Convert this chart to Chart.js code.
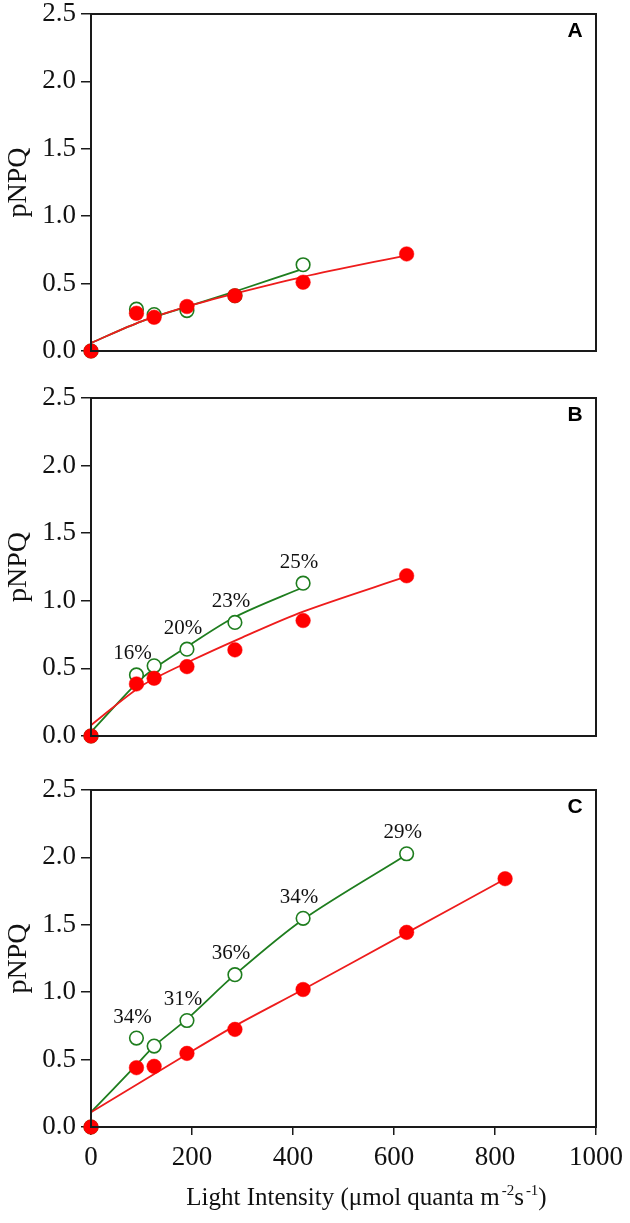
<!DOCTYPE html>
<html>
<head>
<meta charset="utf-8">
<script src="https://cdn.jsdelivr.net/npm/chart.js@4"></script>
<style>
  html, body { margin: 0; padding: 0; background: #fff; }
  #wrap { position: relative; width: 630px; height: 1223px; overflow: hidden; }
  canvas { position: absolute; left: 0; }
</style>
</head>
<body>
<div id="wrap">
  <canvas id="cA" width="630" height="384" style="top:0px"></canvas>
  <canvas id="cB" width="630" height="384" style="top:384px"></canvas>
  <canvas id="cC" width="630" height="455" style="top:768px"></canvas>
</div>
<script>
// ---------- data ----------
const yTickLabels = ['0.0', '0.5', '1.0', '1.5', '2.0', '2.5'];
const xTickLabels = ['0', '200', '400', '600', '800', '1000'];
const xTitleParts = [
  { t: 'Light Intensity (\u03bcmol quanta m', sup: false },
  { t: '-2', sup: true },
  { t: 's', sup: false },
  { t: '-1', sup: true },
  { t: ')', sup: false }
];

// Panel A
const lightA_red = [0, 90, 125, 190, 285, 420, 625];
const pnpqA_red = [0, 0.28, 0.25, 0.33, 0.41, 0.51, 0.72];
const lightA_green = [0, 90, 125, 190, 285, 420];
const pnpqA_green = [0, 0.31, 0.27, 0.30, 0.41, 0.64];
const fitA_red_x = [0, 100, 200, 300, 420, 625];
const fitA_red_y = [0.06, 0.22, 0.34, 0.44, 0.55, 0.71];
const fitA_green_x = [0, 100, 200, 300, 420];
const fitA_green_y = [0.06, 0.22, 0.34, 0.46, 0.61];

// Panel B
const lightB_red = [0, 90, 125, 190, 285, 420, 625];
const pnpqB_red = [0, 0.385, 0.427, 0.513, 0.637, 0.854, 1.185];
const lightB_green = [0, 90, 125, 190, 285, 420];
const pnpqB_green = [0, 0.452, 0.519, 0.642, 0.84, 1.13];
const pctB = ['', '16%', '', '20%', '23%', '25%'];
const fitB_red_x = [0, 100, 200, 300, 420, 625];
const fitB_red_y = [0.08, 0.37, 0.56, 0.73, 0.92, 1.18];
const fitB_green_x = [0, 90, 125, 190, 285, 420];
const fitB_green_y = [0.03, 0.39, 0.50, 0.66, 0.88, 1.10];

// Panel C
const lightC_red = [0, 90, 125, 190, 285, 420, 625, 820];
const pnpqC_red = [0, 0.44, 0.45, 0.546, 0.724, 1.02, 1.444, 1.842];
const lightC_green = [0, 90, 125, 190, 285, 420, 625];
const pnpqC_green = [0, 0.66, 0.60, 0.79, 1.13, 1.548, 2.027];
const pctC = ['', '34%', '', '31%', '36%', '34%', '29%'];
const fitC_red_x = [0, 190, 285, 420, 625, 820];
const fitC_red_y = [0.11, 0.54, 0.75, 1.02, 1.44, 1.84];
const fitC_green_x = [0, 90, 125, 190, 285, 420, 625];
const fitC_green_y = [0.11, 0.46, 0.60, 0.80, 1.13, 1.54, 2.02];

// ---------- styles ----------
const RED = '#ff0000';
const RED_LINE = '#ee1c1c';
const GREEN = '#1e7d1e';
const INK = '#111111';
const SERIF = '"Liberation Serif", "Times New Roman", serif';
const SANS = '"Liberation Sans", Arial, sans-serif';

function pts(xs, ys) { return xs.map((x, i) => ({ x: x, y: ys[i] })); }

const framePlugin = {
  id: 'frame',
  afterDraw(chart) {
    const a = chart.chartArea, ctx = chart.ctx;
    ctx.save();
    ctx.strokeStyle = '#1a1a1a';
    ctx.lineWidth = 2;
    ctx.strokeRect(a.left, a.top, a.right - a.left, a.bottom - a.top);
    ctx.restore();
  }
};

const annotPlugin = {
  id: 'annot',
  afterDatasetsDraw(chart, args, opts) {
    const ctx = chart.ctx, a = chart.chartArea;
    ctx.save();
    if (opts.letter) {
      ctx.font = 'bold 21px ' + SANS;
      ctx.fillStyle = '#000';
      ctx.textAlign = 'center';
      ctx.textBaseline = 'middle';
      ctx.fillText(opts.letter, a.right - 21, a.top + 17);
    }
    if (opts.labels) {
      const meta = chart.getDatasetMeta(opts.datasetIndex);
      ctx.font = '21px ' + SERIF;
      ctx.fillStyle = '#111';
      ctx.textAlign = 'center';
      ctx.textBaseline = 'middle';
      opts.labels.forEach((t, i) => {
        if (!t) return;
        const p = meta.data[i];
        ctx.fillText(t, p.x - 4, p.y - 21);
      });
    }
    if (opts.xTitle) {
      // axis title with true superscripts
      const main = '25px ' + SERIF, sup = '15px ' + SERIF;
      let total = 0;
      const widths = xTitleParts.map(p => {
        ctx.font = p.sup ? sup : main;
        const w = ctx.measureText(p.t).width + (p.sup ? 2 : 0);
        total += w;
        return w;
      });
      let x = (a.left + a.right) / 2 + 23 - total / 2;
      const base = chart.height - 18;
      ctx.fillStyle = INK;
      ctx.textAlign = 'left';
      ctx.textBaseline = 'alphabetic';
      xTitleParts.forEach((p, i) => {
        ctx.font = p.sup ? sup : main;
        ctx.fillText(p.t, x + (p.sup ? 2 : 0), p.sup ? base - 10 : base);
        x += widths[i];
      });
    }
    ctx.restore();
  }
};

function makeChart(id, panel) {
  const showX = panel.showX;
  const datasets = [
    { label: 'red', data: pts(panel.rx, panel.ry), showLine: false,
      pointRadius: 7.3, pointHoverRadius: 7.3, pointBackgroundColor: RED, pointBorderColor: RED,
      pointBorderWidth: 0.5, clip: false },
    { label: 'green', data: pts(panel.gx, panel.gy), showLine: false,
      pointRadius: 6.8, pointHoverRadius: 6.8, pointBackgroundColor: '#ffffff', pointBorderColor: GREEN,
      pointBorderWidth: 1.6, clip: false },
    { label: 'red fit', data: pts(panel.frx, panel.fry), showLine: true, pointRadius: 0,
      borderColor: RED_LINE, borderWidth: 1.8, tension: 0.3,
      fill: false, clip: false },
    { label: 'green fit', data: pts(panel.fgx, panel.fgy), showLine: true, pointRadius: 0,
      borderColor: GREEN, borderWidth: 1.8, tension: 0.3,
      fill: false, clip: false }
  ];
  return new Chart(document.getElementById(id), {
    type: 'scatter',
    data: { datasets },
    plugins: [framePlugin, annotPlugin],
    options: {
      responsive: false,
      animation: false,
      events: [],
      layout: { padding: panel.padding },
      plugins: {
        legend: { display: false },
        tooltip: { enabled: false },
        annot: { letter: panel.letter, labels: panel.pct, datasetIndex: 1, xTitle: showX }
      },
      scales: {
        x: {
          type: 'linear', min: 0, max: 1000,
          display: showX,
          afterBuildTicks(s) { s.ticks = xTickLabels.map(t => ({ value: Number(t) })); },
          ticks: {
            callback: (v, i) => xTickLabels[i],
            font: { family: SERIF, size: 27 }, color: INK, padding: 7, maxRotation: 0, autoSkip: false
          },
          grid: { drawOnChartArea: false, drawTicks: true, tickLength: 8, color: '#1a1a1a', lineWidth: 1.5 },
          border: { display: false },
          title: { display: false },
          afterFit(s) {
            if (showX) { s.height = 96; }
            s.paddingLeft = 0; s.paddingRight = 0;
          }
        },
        y: {
          type: 'linear', min: 0, max: 2.5,
          afterBuildTicks(s) { s.ticks = yTickLabels.map(t => ({ value: Number(t) })); },
          ticks: {
            callback: (v, i) => yTickLabels[i],
            font: { family: SERIF, size: 27 }, color: INK, padding: 5
          },
          grid: { drawOnChartArea: false, drawTicks: true, tickLength: 10, color: '#1a1a1a', lineWidth: 1.5 },
          border: { display: false },
          title: {
            display: true, text: 'pNPQ',
            font: { family: SERIF, size: 28 }, color: INK, padding: { top: 2, bottom: 0 }
          },
          afterFit(s) { s.width = 91; s.paddingTop = 0; s.paddingBottom = 0; }
        }
      }
    }
  });
}

makeChart('cA', {
  letter: 'A', showX: false, pct: null,
  padding: { top: 14, right: 34, bottom: 33, left: 0 },
  rx: lightA_red, ry: pnpqA_red, gx: lightA_green, gy: pnpqA_green,
  frx: fitA_red_x, fry: fitA_red_y, fgx: fitA_green_x, fgy: fitA_green_y
});
makeChart('cB', {
  letter: 'B', showX: false, pct: pctB,
  padding: { top: 14, right: 34, bottom: 32, left: 0 },
  rx: lightB_red, ry: pnpqB_red, gx: lightB_green, gy: pnpqB_green,
  frx: fitB_red_x, fry: fitB_red_y, fgx: fitB_green_x, fgy: fitB_green_y
});
makeChart('cC', {
  letter: 'C', showX: true, pct: pctC,
  padding: { top: 22, right: 34, bottom: 0, left: 0 },
  rx: lightC_red, ry: pnpqC_red, gx: lightC_green, gy: pnpqC_green,
  frx: fitC_red_x, fry: fitC_red_y, fgx: fitC_green_x, fgy: fitC_green_y
});
</script>
</body>
</html>
